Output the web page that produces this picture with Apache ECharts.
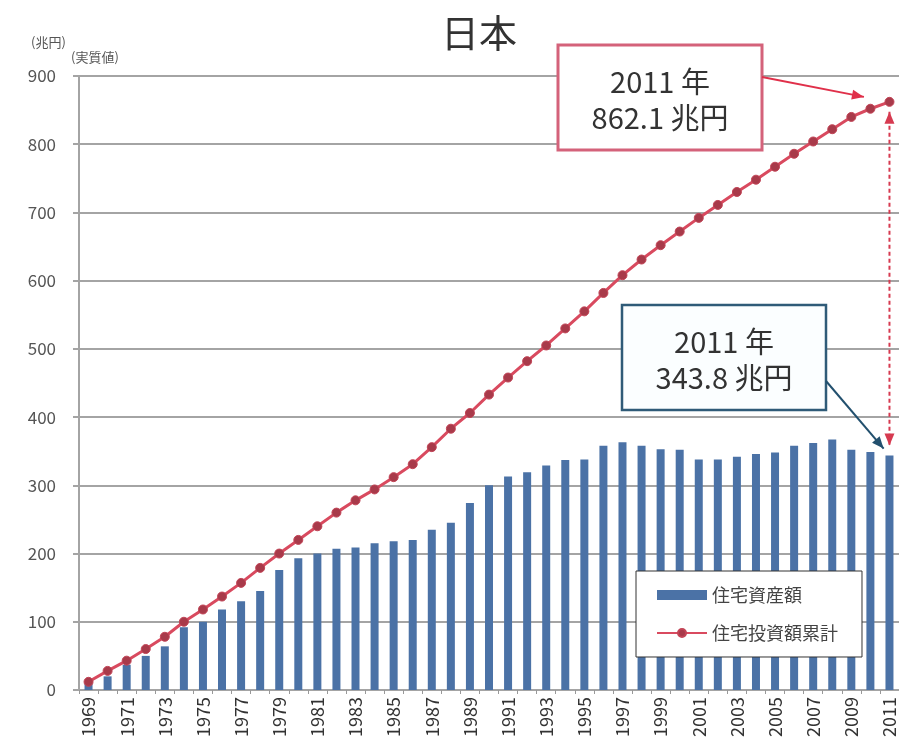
<!DOCTYPE html>
<html>
<head>
<meta charset="utf-8">
<title>日本</title>
<script src="https://cdn.jsdelivr.net/npm/echarts@6/dist/echarts.min.js"></script>
<style>
  html, body { margin: 0; padding: 0; background: #fff; overflow: hidden; }
  #chart { width: 899px; height: 750px; }
</style>
</head>
<body>
<div id="chart"></div>
<script>
// Years on the category axis
const years = [
  '1969','1970','1971','1972','1973','1974','1975','1976','1977','1978',
  '1979','1980','1981','1982','1983','1984','1985','1986','1987','1988',
  '1989','1990','1991','1992','1993','1994','1995','1996','1997','1998',
  '1999','2000','2001','2002','2003','2004','2005','2006','2007','2008',
  '2009','2010','2011'
];

// 住宅資産額 (兆円, 実質値)
const assetValue = [
  10, 20, 37, 50, 64, 92, 100, 118, 130, 145,
  176, 193, 200, 207, 209, 215, 218, 220, 235, 245,
  274, 300, 313, 319, 329, 337, 338, 358, 363, 358,
  353, 352, 338, 338, 342, 346, 348, 358, 362, 367,
  352, 349, 343.8
];

// 住宅投資額累計 (兆円, 実質値)
const cumulativeInvestment = [
  12, 28, 43, 60, 78, 100, 118, 137, 157, 179,
  200, 220, 240, 260, 278, 294, 312, 331, 356, 383,
  406, 433, 458, 482, 505, 530, 555, 582, 608, 631,
  652, 672, 692, 711, 730, 748, 767, 786, 804, 822,
  840, 852, 862.1
];

// Value-axis ticks
const yTicks = [0, 100, 200, 300, 400, 500, 600, 700, 800, 900];

const seriesNames = ['住宅資産額', '住宅投資額累計'];
const calloutYear = '2011';

const FONT = '"Noto Sans CJK JP", "Noto Sans", sans-serif';
const BAR_COLOR = '#4b72a6';
const LINE_COLOR = '#d94a5f';
const DOT_COLOR = '#a83a4a';
const GRID_COLOR = '#a4a4a4';

const chart = echarts.init(document.getElementById('chart'), null, { renderer: 'canvas' });

chart.setOption({
  backgroundColor: '#ffffff',
  animation: false,
  textStyle: { fontFamily: FONT },
  title: {
    text: '日本',
    left: 436,
    top: 9,
    textStyle: { fontSize: 38, fontWeight: 'normal', color: '#333', fontFamily: FONT }
  },
  grid: { left: 79, right: -4, top: 76, bottom: 60, containLabel: false },
  legend: {
    orient: 'vertical',
    left: 636,
    top: 571,
    backgroundColor: '#ffffff',
    borderColor: '#333333',
    borderWidth: 1,
    padding: [15, 24, 15, 20],
    itemGap: 20,
    itemWidth: 50,
    itemHeight: 10,
    textStyle: { fontSize: 18, color: '#444', fontFamily: FONT },
    data: [
      { name: seriesNames[0], icon: 'rect' },
      { name: seriesNames[1] }
    ]
  },
  xAxis: {
    type: 'category',
    data: years,
    boundaryGap: true,
    axisLine: { show: true, lineStyle: { color: GRID_COLOR, width: 2 } },
    axisTick: { show: true, length: 4, interval: 0, lineStyle: { color: '#999' } },
    axisLabel: {
      interval: 1,
      rotate: 90,
      margin: 7,
      fontSize: 18,
      color: '#333',
      fontFamily: FONT
    },
    splitLine: { show: false }
  },
  yAxis: {
    type: 'value',
    min: yTicks[0],
    max: yTicks[yTicks.length - 1],
    interval: yTicks[1] - yTicks[0],
    axisLine: { show: true, lineStyle: { color: GRID_COLOR, width: 2 } },
    axisTick: { show: true, length: 6, lineStyle: { color: GRID_COLOR, width: 2 } },
    axisLabel: { margin: 23, fontSize: 17, color: '#555', fontFamily: FONT },
    splitLine: { show: true, lineStyle: { color: GRID_COLOR, width: 2 } }
  },
  series: [
    {
      name: seriesNames[0],
      type: 'bar',
      data: assetValue,
      barWidth: 8,
      itemStyle: { color: BAR_COLOR },
      z: 2
    },
    {
      name: seriesNames[1],
      type: 'line',
      data: cumulativeInvestment,
      symbol: 'circle',
      symbolSize: 9,
      showAllSymbol: true,
      lineStyle: { color: LINE_COLOR, width: 3 },
      itemStyle: { color: DOT_COLOR, borderColor: '#c24456', borderWidth: 1 },
      z: 3
    }
  ]
});

// Build a straight arrow (line plus filled head at the end, optionally at both ends)
function arrow(x1, y1, x2, y2, color, width, dashed, both) {
  const out = [];
  out.push({
    type: 'line',
    shape: { x1: x1, y1: y1, x2: x2, y2: y2 },
    style: { stroke: color, lineWidth: width, lineDash: dashed ? [4, 3] : null },
    z: 20
  });
  const head = (tx, ty, fx, fy) => {
    const ang = Math.atan2(ty - fy, tx - fx);
    const len = 12, half = 5;
    const bx = tx - len * Math.cos(ang), by = ty - len * Math.sin(ang);
    return {
      type: 'polygon',
      shape: {
        points: [
          [tx, ty],
          [bx + half * Math.sin(ang), by - half * Math.cos(ang)],
          [bx - half * Math.sin(ang), by + half * Math.cos(ang)]
        ]
      },
      style: { fill: color },
      z: 21
    };
  };
  out.push(head(x2, y2, x1, y1));
  if (both) out.push(head(x1, y1, x2, y2));
  return out;
}

// Pull a point back from its target along the segment by a given distance
function shorten(x1, y1, x2, y2, d) {
  const dx = x2 - x1, dy = y2 - y1;
  const L = Math.sqrt(dx * dx + dy * dy);
  return [x2 - dx / L * d, y2 - dy / L * d];
}

const idx = years.indexOf(calloutYear);
const topVal = cumulativeInvestment[idx];
const barVal = assetValue[idx];
const pTop = chart.convertToPixel({ gridIndex: 0 }, [calloutYear, topVal]);
const pBar = chart.convertToPixel({ gridIndex: 0 }, [calloutYear, barVal]);

const redBox = { x: 558, y: 45, w: 204, h: 105 };
const blueBox = { x: 622, y: 305, w: 204, h: 105 };

const redStart = [redBox.x + redBox.w, redBox.y + 32];
const redEnd = shorten(redStart[0], redStart[1], pTop[0], pTop[1], 26);
const blueStart = [blueBox.x + blueBox.w, blueBox.y + 76];
const blueEnd = shorten(blueStart[0], blueStart[1], pBar[0], pBar[1], 9);

const graphics = [
  {
    type: 'text', left: 31, top: 36, z: 10,
    style: { text: '(兆円)', font: '13px ' + FONT, fill: '#555' }
  },
  {
    type: 'text', left: 71, top: 51, z: 10,
    style: { text: '(実質値)', font: '13px ' + FONT, fill: '#555' }
  },
  {
    type: 'rect', z: 15,
    shape: { x: redBox.x, y: redBox.y, width: redBox.w, height: redBox.h },
    style: { fill: '#ffffff', stroke: '#d4627a', lineWidth: 3 }
  },
  {
    type: 'text', z: 16,
    x: redBox.x + redBox.w / 2, y: redBox.y + redBox.h / 2 + 2,
    style: {
      text: calloutYear + ' 年\n' + topVal.toFixed(1) + ' 兆円',
      font: '29px ' + FONT, fill: '#333', align: 'center', verticalAlign: 'middle', lineHeight: 36
    }
  },
  {
    type: 'rect', z: 15,
    shape: { x: blueBox.x, y: blueBox.y, width: blueBox.w, height: blueBox.h },
    style: { fill: '#fbfeff', stroke: '#2f5b78', lineWidth: 2.5 }
  },
  {
    type: 'text', z: 16,
    x: blueBox.x + blueBox.w / 2, y: blueBox.y + blueBox.h / 2 + 2,
    style: {
      text: calloutYear + ' 年\n' + barVal.toFixed(1) + ' 兆円',
      font: '29px ' + FONT, fill: '#333', align: 'center', verticalAlign: 'middle', lineHeight: 36
    }
  }
]
  .concat(arrow(redStart[0], redStart[1], redEnd[0], redEnd[1], '#e0304a', 2, false, false))
  .concat(arrow(blueStart[0], blueStart[1], blueEnd[0], blueEnd[1], '#22506e', 2, false, false))
  .concat(arrow(pTop[0], pTop[1] + 10, pBar[0], pBar[1] - 10, '#d63a50', 2, true, true));

chart.setOption({ graphic: graphics });
</script>
</body>
</html>
